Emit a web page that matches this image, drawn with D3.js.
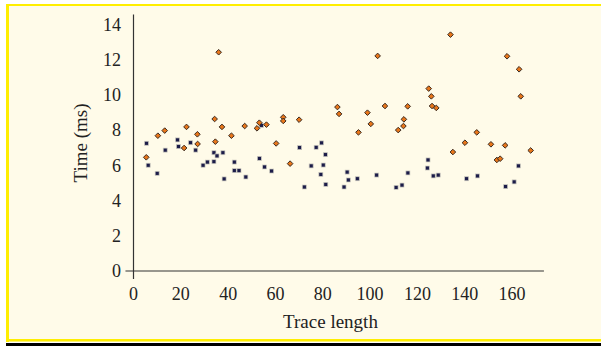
<!DOCTYPE html>
<html>
<head>
<meta charset="utf-8">
<script src="https://cdn.jsdelivr.net/npm/d3@7"></script>
<style>
  body { margin: 0; background: #fff; }
  svg { display: block; }
</style>
</head>
<body>
<svg id="chart" width="601" height="346"></svg>
<script>
// orange diamonds: [trace length, time]
const upperSeries = [
  [5.4, 6.47], [10.3, 7.7], [13.2, 7.99], [21.4, 7.0], [22.4, 8.2], [27.0, 7.78],
  [27.1, 7.23], [34.3, 8.65], [34.6, 7.36], [36.0, 12.45], [37.4, 8.2], [41.4, 7.7],
  [47.0, 8.25], [52.2, 8.12], [53.2, 8.44], [56.2, 8.33], [60.3, 7.26], [63.3, 8.75],
  [63.3, 8.54], [66.2, 6.11], [70.0, 8.61], [86.2, 9.33], [86.9, 8.94], [95.1, 7.89],
  [98.9, 9.01], [100.3, 8.37], [103.2, 12.24], [106.3, 9.39], [111.9, 8.02], [114.1, 8.25],
  [114.3, 8.63], [115.9, 9.37], [124.8, 10.38], [125.9, 9.94], [126.2, 9.39], [128.0, 9.28],
  [134.0, 13.45], [135.0, 6.77], [140.1, 7.3], [145.1, 7.89], [151.1, 7.21], [153.6, 6.32],
  [155.0, 6.39], [157.1, 7.15], [157.9, 12.22], [163.0, 11.48], [163.7, 9.94], [167.9, 6.86]
];

// dark squares
const lowerSeries = [
  [5.5, 7.27], [6.2, 6.02], [10.0, 5.56], [13.4, 6.88], [18.6, 7.46], [19.0, 7.08],
  [24.1, 7.3], [26.3, 6.88], [29.4, 6.02], [31.2, 6.2], [34.0, 6.73], [34.0, 6.22],
  [35.3, 6.55], [37.8, 6.73], [38.3, 5.24], [42.6, 6.2], [42.6, 5.71], [44.6, 5.71],
  [47.5, 5.35], [53.2, 6.41], [54.1, 8.29], [55.4, 5.92], [58.4, 5.69], [70.2, 7.02],
  [72.2, 4.78], [75.1, 5.98], [77.2, 7.04], [79.5, 7.29], [79.2, 5.5], [80.2, 6.03],
  [81.1, 6.62], [81.3, 4.93], [89.0, 4.78], [90.3, 5.63], [90.8, 5.18], [94.6, 5.25],
  [102.8, 5.46], [111.0, 4.76], [113.5, 4.89], [116.0, 5.58], [124.5, 6.32], [124.2, 5.86],
  [126.7, 5.41], [128.8, 5.46], [140.8, 5.25], [145.4, 5.41], [157.3, 4.8], [160.9, 5.07],
  [162.7, 5.98]
];

const xTicks = [0, 20, 40, 60, 80, 100, 120, 140, 160];
const yTicks = [0, 2, 4, 6, 8, 10, 12, 14];

const serif = '"Liberation Serif", "DejaVu Serif", serif';
const svg = d3.select('#chart');

// panel background + yellow frame
svg.append('rect').attr('x', 6).attr('y', 4).attr('width', 595).attr('height', 338).attr('fill', '#fffbe9');
svg.append('rect').attr('x', 6).attr('y', 4).attr('width', 595).attr('height', 2).attr('fill', '#ffee00');
svg.append('rect').attr('x', 6).attr('y', 4).attr('width', 3).attr('height', 338).attr('fill', '#ffee00');
svg.append('rect').attr('x', 6).attr('y', 339).attr('width', 595).attr('height', 2.5).attr('fill', '#ffee00');
svg.append('rect').attr('x', 6).attr('y', 343).attr('width', 595).attr('height', 3).attr('fill', '#000');

const x = d3.scaleLinear().domain([0, 160]).range([133.5, 512]);
const y = d3.scaleLinear().domain([0, 14]).range([271, 25]);

// axis lines (crossing at origin)
svg.append('line').attr('x1', x(-3.4)).attr('x2', x(173.5)).attr('y1', y(0)).attr('y2', y(0))
  .attr('stroke', '#333').attr('stroke-width', 1.2);
svg.append('line').attr('x1', x(0)).attr('x2', x(0)).attr('y1', y(14.6)).attr('y2', y(-0.45))
  .attr('stroke', '#333').attr('stroke-width', 1.2);

// tick labels
svg.append('g').selectAll('text').data(xTicks).join('text')
  .attr('x', d => x(d)).attr('y', 299.5)
  .attr('text-anchor', 'middle').attr('font-size', 18)
  .attr('font-family', serif).attr('fill', '#222')
  .text(d => d);

svg.append('g').selectAll('text').data(yTicks).join('text')
  .attr('x', 121).attr('y', d => y(d) + 6)
  .attr('text-anchor', 'end').attr('font-size', 18)
  .attr('font-family', serif).attr('fill', '#222')
  .text(d => d);

// axis titles
svg.append('text').attr('x', 330.5).attr('y', 327.5)
  .attr('text-anchor', 'middle').attr('font-size', 19)
  .attr('font-family', serif).attr('fill', '#222')
  .text('Trace length');

svg.append('text').attr('transform', `translate(87,143) rotate(-90)`)
  .attr('text-anchor', 'middle').attr('font-size', 19)
  .attr('font-family', serif).attr('fill', '#222')
  .text('Time (ms)');

// dark squares
svg.append('g').selectAll('rect').data(lowerSeries).join('rect')
  .attr('x', d => x(d[0]) - 2).attr('y', d => y(d[1]) - 2)
  .attr('width', 4).attr('height', 4)
  .attr('fill', '#1c1c48').attr('stroke', '#cfcdc2').attr('stroke-width', 0.7);

// orange diamonds
const diamond = d3.symbol().type(d3.symbolDiamond2).size(20);
svg.append('g').selectAll('path').data(upperSeries).join('path')
  .attr('d', diamond)
  .attr('transform', d => `translate(${x(d[0])},${y(d[1])})`)
  .attr('fill', '#e8761a').attr('stroke', '#3a2a20').attr('stroke-width', 1);
</script>
</body>
</html>
